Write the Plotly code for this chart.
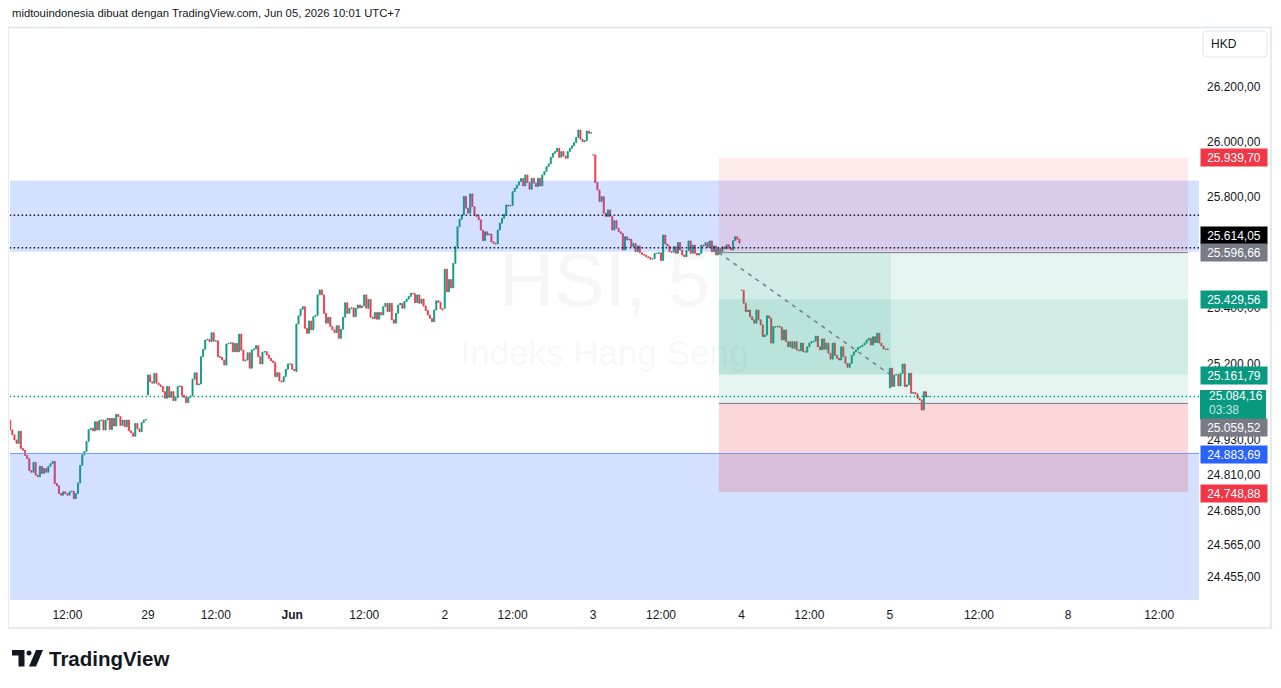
import numpy as np
import plotly.graph_objects as go

# ---------------- data (5-minute closes) ----------------
closes_may28 = [24966, 24949, 24931, 24919, 24962, 24901, 24895, 24877, 24866, 24824,
                24818, 24853, 24808, 24802, 24839, 24814, 24832, 24818, 24839, 24848,
                24856, 24779, 24771, 24744, 24738, 24750, 24744, 24738, 24750, 24752,
                24726, 24744, 24781, 24842, 24879, 24891, 24926, 24967, 24972, 24963,
                24995, 24966, 24999, 25001, 24966, 25001, 25007, 24968, 25007, 24980,
                25021, 25013, 24982, 25001, 24977, 25001, 24963, 24956, 24944, 24989,
                24970, 24960, 24992, 25001, 25003]
closes_may29 = [25160, 25136, 25131, 25166, 25131, 25125, 25119, 25101, 25078, 25119,
                25081, 25101, 25069, 25081, 25119, 25121, 25088, 25081, 25062, 25081,
                25086, 25145, 25168, 25125, 25128, 25225, 25251, 25284, 25286, 25278,
                25310, 25280, 25281, 25225, 25222, 25213, 25195, 25270, 25272, 25274,
                25242, 25272, 25242, 25305, 25248, 25210, 25213, 25239, 25184, 25249,
                25252, 25264, 25225, 25199, 25241, 25243, 25231, 25219, 25210, 25204,
                25154, 25168, 25139, 25136, 25154, 25180, 25199, 25199, 25180, 25175]
closes_jun01 = [25341, 25370, 25394, 25403, 25326, 25308, 25352, 25320, 25367, 25372,
                25445, 25463, 25445, 25379, 25344, 25365, 25332, 25320, 25310, 25335,
                25290, 25322, 25365, 25417, 25379, 25397, 25399, 25367, 25397, 25409,
                25399, 25405, 25445, 25397, 25429, 25365, 25360, 25382, 25358, 25382,
                25373, 25403, 25415, 25385, 25415, 25356, 25344, 25379, 25409, 25415,
                25397, 25421, 25430, 25439, 25451, 25449, 25417, 25445, 25415, 25430,
                25405, 25389, 25373, 25361, 25349, 25391, 25424, 25418, 25395, 25391]
closes_jun02 = [25537, 25456, 25500, 25470, 25558, 25618, 25690, 25717, 25733, 25800,
                25757, 25739, 25809, 25763, 25733, 25727, 25715, 25678, 25640, 25672,
                25660, 25664, 25636, 25630, 25628, 25678, 25703, 25721, 25735, 25769,
                25765, 25767, 25817, 25829, 25841, 25853, 25865, 25838, 25878, 25850,
                25826, 25866, 25848, 25836, 25866, 25838, 25878, 25890, 25908, 25918,
                25942, 25957, 25963, 25975, 25942, 25963, 25947, 25939, 25963, 25975,
                25984, 25996, 26015, 26042, 26008, 25999, 26003, 26038, 26030, 26032]
closes_jun03 = [25951, 25850, 25823, 25781, 25799, 25739, 25727, 25751, 25727, 25678,
                25712, 25685, 25672, 25666, 25606, 25654, 25642, 25645, 25618, 25630,
                25600, 25621, 25596, 25591, 25588, 25582, 25579, 25573, 25575, 25594,
                25594, 25596, 25568, 25660, 25628, 25621, 25600, 25598, 25618, 25594,
                25633, 25606, 25588, 25582, 25604, 25639, 25594, 25624, 25594, 25588,
                25594, 25624, 25621, 25633, 25615, 25639, 25600, 25621, 25588, 25612,
                25600, 25618, 25610, 25625, 25612, 25606, 25640, 25654, 25645, 25631]
closes_jun04 = [25462, 25415, 25385, 25391, 25367, 25356, 25344, 25391, 25356, 25338,
                25296, 25302, 25370, 25362, 25273, 25332, 25330, 25333, 25330, 25284,
                25320, 25278, 25260, 25278, 25255, 25278, 25249, 25246, 25273, 25243,
                25241, 25260, 25273, 25278, 25280, 25298, 25260, 25249, 25288, 25251,
                25273, 25237, 25216, 25273, 25230, 25219, 25213, 25260, 25225, 25201,
                25187, 25201, 25230, 25242, 25249, 25258, 25260, 25266, 25273, 25284,
                25290, 25266, 25296, 25275, 25308, 25273, 25263, 25252, 25250, 25252]
closes_jun05 = [25184, 25119, 25160, 25162, 25121, 25166, 25199, 25119, 25125, 25166,
                25095, 25098, 25093, 25078, 25072, 25036, 25101, 25083, 25084.16]

day_first_open = [25001, 25089, 25172, 25397, 25951, 25462, 25114]
day_first_index = [5, 70, 140, 210, 280, 350, 420]      # bar index (70 bars per session)

x_tick_index = [32, 70, 102, 138, 172, 210, 242, 280, 312, 350, 382, 420, 462, 504, 547]
x_tick_text = ["12:00", "29", "12:00", "<b>Jun</b>", "12:00", "2", "12:00", "3",
               "12:00", "4", "12:00", "5", "12:00", "8", "12:00"]
y_tick_values = [26200, 26000, 25800, 25400, 25200, 24930, 24810, 24685, 24565, 24455]

upper_zone = [25600.0, 25858.0]
support_level = 24883.69
dotted_levels = [25732.0, 25614.05]
last_price = 25084.16
countdown = "03:38"
short_pos = {"entry": 25596.66, "stop": 25939.70, "target": 25161.79}
long_pos = {"entry": 25059.52, "stop": 24748.88, "target": 25429.56}
pos_start, pos_end, pos_hit = 339.3, 560.6, 420.5

# ---------------- geometry ----------------
OFF = 8
W, H = 1281 - 2 * OFF, 688 - 2 * OFF
PL, PR, PT, PB = 10 - OFF, 1199 - OFF, 27 - OFF, 600 - OFF
PW, PH = PR - PL, PB - PT
XRANGE = [4.9, 565.8]
YRANGE = [4.386965, 4.421966]
FONT = "Liberation Sans"
UP, DOWN = "#089981", "#f23645"
TXT = "#131722"


def px(x):
    return (x - OFF - PL) / PW


def py(y):
    return (PB - (y - OFF)) / PH


def L(v):
    return float(np.log10(v))


def fmt(v):
    s = f"{v:,.2f}"
    return s.replace(",", "X").replace(".", ",").replace("X", ".")


# ---------------- bars ----------------
days = [closes_may28, closes_may29, closes_jun01, closes_jun02, closes_jun03, closes_jun04, closes_jun05]
xs, o, c = [], [], []
for start, first_open, cl in zip(day_first_index, day_first_open, days):
    prev = first_open
    for j, v in enumerate(cl):
        xs.append(start + j)
        o.append(prev)
        c.append(v)
        prev = v
o = np.array(o, float)
c = np.array(c, float)
hi = np.maximum(o, c)
lo = np.minimum(o, c)

fig = go.Figure()

# watermark (under bars)
wm_x = (XRANGE[0] + XRANGE[1]) / 2
fig.add_trace(go.Scatter(
    x=[wm_x, wm_x], y=[L(25473), L(25227)], mode="text",
    text=["HSI, 5", "Indeks Hang Seng"],
    textfont=dict(family=FONT, size=[76, 35], color="rgba(42,46,57,0.045)"),
    hoverinfo="skip", showlegend=False))

fig.add_trace(go.Candlestick(
    x=xs, open=np.log10(o), high=np.log10(hi), low=np.log10(lo), close=np.log10(c),
    increasing=dict(line=dict(color=UP, width=0.85), fillcolor=UP),
    decreasing=dict(line=dict(color=DOWN, width=0.85), fillcolor=DOWN),
    whiskerwidth=0, hoverinfo="skip", showlegend=False))

shapes = []


def rect(x0, x1, p0, p1, color):
    shapes.append(dict(type="rect", xref="x", yref="y", x0=x0, x1=x1, y0=L(p0), y1=L(p1),
                       fillcolor=color, line=dict(width=0), layer="above"))


def hline(p, color, width, dash="solid", x0=-50, x1=700):
    shapes.append(dict(type="line", xref="x", yref="y", x0=x0, x1=x1, y0=L(p), y1=L(p),
                       line=dict(color=color, width=width, dash=dash), layer="above"))


# blue zones
rect(-50, 700, upper_zone[0], upper_zone[1], "rgba(41,98,255,0.2)")
rect(-50, 700, 24000, support_level, "rgba(41,98,255,0.2)")
# position tools
rect(pos_start, pos_end, short_pos["entry"], short_pos["stop"], "rgba(242,54,69,0.11)")
rect(pos_start, pos_end, short_pos["target"], short_pos["entry"], "rgba(8,153,129,0.1)")
rect(pos_start, pos_end, long_pos["entry"], long_pos["target"], "rgba(8,153,129,0.1)")
rect(pos_start, pos_end, long_pos["stop"], long_pos["entry"], "rgba(242,54,69,0.2)")
rect(pos_start, pos_hit, short_pos["target"], short_pos["entry"], "rgba(8,153,129,0.1)")
hline(short_pos["entry"], "#787b86", 1, x0=pos_start, x1=pos_end)
hline(long_pos["entry"], "#787b86", 1, x0=pos_start, x1=pos_end)
shapes.append(dict(type="line", xref="x", yref="y", x0=pos_start, x1=pos_hit - 0.5,
                   y0=L(short_pos["entry"]), y1=L(short_pos["target"]),
                   line=dict(color="#787b86", width=1.5, dash="4px,5px"), layer="above"))
# levels
hline(support_level, "#7499ff", 1)
for lv in dotted_levels:
    hline(lv, TXT, 1.5, dash="1.5px,2.5px")
hline(last_price, UP, 1.5, dash="1.5px,2.5px")

# frame
shapes.append(dict(type="rect", xref="paper", yref="paper", x0=px(8), x1=px(1271), y0=py(628), y1=py(27.5),
                   line=dict(color="#e0e3eb", width=1.5), fillcolor="rgba(0,0,0,0)", layer="above"))


# HKD box (rounded)
def rounded(x0, y0, x1, y1, r):
    X0, X1, Y0, Y1 = px(x0), px(x1), py(y0), py(y1)
    rx, ry = r / PW, r / PH
    return (f"M {X0+rx},{Y0} L {X1-rx},{Y0} Q {X1},{Y0} {X1},{Y0-ry} L {X1},{Y1+ry} "
            f"Q {X1},{Y1} {X1-rx},{Y1} L {X0+rx},{Y1} Q {X0},{Y1} {X0},{Y1+ry} "
            f"L {X0},{Y0-ry} Q {X0},{Y0} {X0+rx},{Y0} Z")


shapes.append(dict(type="path", xref="paper", yref="paper", path=rounded(1203, 31, 1267, 57, 4),
                   line=dict(color="#e0e3eb", width=1), fillcolor="white", layer="above"))

# current price box
shapes.append(dict(type="rect", xref="paper", yref="paper", x0=px(1200), x1=px(1266),
                   y0=py(419.5), y1=py(390), fillcolor=UP, line=dict(width=0), layer="above"))

# TradingView logo mark
shapes.append(dict(type="path", xref="paper", yref="paper",
                   path=f"M {px(12)},{py(650)} L {px(24.5)},{py(650)} L {px(24.5)},{py(666.5)} L {px(18.5)},{py(666.5)} "
                        f"L {px(18.5)},{py(655.5)} L {px(12)},{py(655.5)} Z",
                   fillcolor=TXT, line=dict(width=0), layer="above"))
shapes.append(dict(type="circle", xref="paper", yref="paper", x0=px(26.5), x1=px(31.5), y0=py(655.5), y1=py(650.5),
                   fillcolor=TXT, line=dict(width=0), layer="above"))
shapes.append(dict(type="path", xref="paper", yref="paper",
                   path=f"M {px(29)},{py(666.5)} L {px(36)},{py(650)} L {px(43)},{py(650)} L {px(36)},{py(666.5)} Z",
                   fillcolor=TXT, line=dict(width=0), layer="above"))

annotations = []
# header
annotations.append(dict(xref="paper", yref="paper", x=px(10), y=py(13), xanchor="left", yanchor="middle",
                        text="midtouindonesia dibuat dengan TradingView.com, Jun 05, 2026 10:01 UTC+7",
                        showarrow=False, font=dict(family=FONT, size=11.3, color=TXT)))
annotations.append(dict(xref="paper", yref="paper", x=px(47), y=py(658), xanchor="left", yanchor="middle",
                        text="<b>TradingView</b>", showarrow=False, font=dict(family=FONT, size=20.5, color=TXT)))
annotations.append(dict(xref="paper", yref="paper", x=px(1224), y=py(44), xanchor="center", yanchor="middle",
                        text="HKD", showarrow=False, font=dict(family=FONT, size=12, color=TXT)))

# price labels
labels = [
    (short_pos["stop"], "#f23645", 0),
    (dotted_levels[1], "#000000", 12),
    (short_pos["entry"], "#787b86", 0),
    (long_pos["target"], UP, 0),
    (short_pos["target"], UP, -1),
    (long_pos["entry"], "#787b86", -24),
    (support_level, "#2962ff", -1),
    (long_pos["stop"], "#f23645", -1),
]
for p, col, sh in labels:
    annotations.append(dict(xref="paper", yref="y", x=px(1200), y=L(p), yshift=sh,
                            xanchor="left", yanchor="middle", text=fmt(p), showarrow=False,
                            width=62, height=13, borderpad=2, bgcolor=col, align="center",
                            font=dict(family=FONT, size=12, color="white")))
annotations.append(dict(xref="paper", yref="y", x=px(1207), y=L(last_price), yshift=0,
                        xanchor="left", yanchor="middle", text=fmt(last_price), showarrow=False,
                        font=dict(family=FONT, size=12, color="white")))
annotations.append(dict(xref="paper", yref="y", x=px(1207), y=L(last_price), yshift=-14,
                        xanchor="left", yanchor="middle", text=countdown, showarrow=False,
                        font=dict(family=FONT, size=12, color="rgba(255,255,255,0.8)")))

fig.update_layout(
    width=W, height=H, autosize=False,
    margin=dict(l=PL, r=W - PR, t=PT, b=H - PB, pad=0),
    paper_bgcolor="white", plot_bgcolor="white", showlegend=False,
    font=dict(family=FONT, size=12, color=TXT),
    shapes=shapes, annotations=annotations,
    xaxis=dict(range=XRANGE, tickmode="array", tickvals=x_tick_index, ticktext=x_tick_text,
               showgrid=False, zeroline=False, showline=False, ticks="",
               rangeslider=dict(visible=False), ticklabelstandoff=6,
               tickfont=dict(family=FONT, size=12, color=TXT)),
    yaxis=dict(range=YRANGE, side="right", tickmode="array",
               tickvals=[L(v) for v in y_tick_values], ticktext=[fmt(v) for v in y_tick_values],
               showgrid=False, zeroline=False, showline=False, ticks="", ticklabelstandoff=7,
               tickfont=dict(family=FONT, size=12, color=TXT)),
)

fig.write_html("out.html")
